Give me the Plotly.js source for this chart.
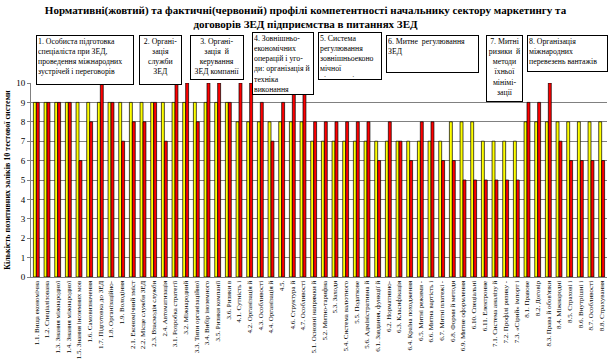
<!DOCTYPE html>
<html>
<head>
<meta charset="utf-8">
<script src="https://cdn.plot.ly/plotly-3.0.1.min.js"></script>
<style>html,body{margin:0;padding:0;background:#fff;}#chart{width:611px;height:361px;}</style>
</head>
<body>
<div id="chart"></div>
<script>
var categories = [
"1.1. Вища економічна","1.2. Спеціалізована","1.3. Знання міжнародної","1.4. Знання міжнародної",
"1.5. Знання іноземних мов","1.6. Самовизначення","1.7. Підготовка до ЗЕД","1.8. Організаційно-",
"1.9. Володіння","2.1. Економічний зміст","2.2. Місце служби ЗЕД","2.3. Взаємодія служби",
"2.4. Автоматизація","3.1. Розробка стратегії","3.2. Міжнародний","3.3. Типи організаційної",
"3.4. Вибір іноземного","3.5. Ризики компанії","3.6. Ризики в","4.1. Сутність і",
"4.2. Організація й","4.3. Особливості","4.4. Організація й","4.5.",
"4.6. Структура й","4.7. Особливості","5.1. Основні напрямки й","5.2. Митно-тарифна",
"5.3. Заходи","5.4. Система валютного","5.5. Податкове","5.6. Адміністративна й",
"6.1. Завдання, функції й","6.2. Нормативно-","6.3. Класифікація","6.4. Країна походження",
"6.5. Митні режими -","6.6. Митна вартість і","6.7. Митні платежі -","6.8. Форми й методи",
"6.9. Митне оформлення","6.10. Спеціальні","6.11. Електронне","7.1. Система аналізу й",
"7.2. Профілі ризику -","7.3. «Сірий» імпорт і","8.1. Правове","8.2. Договір",
"8.3. Права й обов'язки","8.4. Міжнародні","8.5. Страхові і","8.6. Внутрішні і",
"8.7. Особливості","8.8. Страхування"
];
var normative = [9,9,9,9,9,9,9,9,9, 9,9,9,9, 9,9,9,9,9,9, 8,8,8,8,8,8,8, 7,7,7,7,7,7,
                 7,7,7,7,7,7,7,8,8,8,7, 7,7,7, 8,8,8,8,8,8,8,8];
var actual =    [9,9,9,9,6,8,10,9,7, 8,8,9,7, 10,10,8,10,10,9, 10,10,9,7,9,10,10, 8,8,8,8,8,8,
                 6,8,7,6,8,8,6,6,5,5,5, 5,5,5, 9,9,10,7,6,6,6,6];
var seriesNames = ["Нормативний", "Фактичний"];
var titleText = "Нормативні(жовтий) та фактичні(червоний) профілі компетентності начальнику сектору маркетингу та<br>договорів ЗЕД підприємства в питаннях ЗЕД";
var yTitle = "Кількість позитивних заліків 10 тестової системи";
var sectionTexts = [
"1. Особиста підготовка<br>спеціаліста при ЗЕД,<br>проведення міжнародних<br>зустрічей і переговорів",
"2. Органі-<br>зація<br>служби<br>ЗЕД",
"3. Органі-<br>зація  й<br>керування<br>ЗЕД компанії",
"4. Зовнішньо-<br>економічних<br>операцій і уго-<br>ди: організація й<br>техніка<br>виконання",
"5. Система<br>регулювання<br>зовнішньоеконо<br>мічної<br>діяльності",
"6. Митне  регулювання<br>ЗЕД",
"7. Митні<br>ризики  й<br>методи<br>їхньої<br>мінімі-<br>зації",
"8. Організація<br>міжнародних<br>перевезень вантажів"
];

// layout geometry (pixels)
var W = 611, H = 361, L = 31, R = 4, T = 83, B = 84;
var pw = W - L - R, ph = H - T - B;
var boxes = [
  {l:36, r:134, t:35, b:85, align:'left'},
  {l:139, r:182, t:35, b:85, align:'center'},
  {l:190, r:244, t:35, b:80, align:'center'},
  {l:252, r:314, t:32, b:95, align:'left'},
  {l:318, r:382, t:32, b:80, align:'left'},
  {l:386, r:479, t:35, b:73, align:'left'},
  {l:486, r:523, t:35, b:102, align:'center'},
  {l:527, r:608, t:35, b:72, align:'left'}
];
var serif = "Liberation Serif, Times New Roman, serif";
var annotations = boxes.map(function(bx, i){
  return {
    xref:'paper', yref:'paper',
    x:(bx.l - L)/pw, y:(H - B - bx.t)/ph,
    xanchor:'left', yanchor:'top',
    width: bx.r - bx.l - 4, height: bx.b - bx.t - 4,
    text: sectionTexts[i], showarrow:false,
    align: bx.align, valign:'top',
    bgcolor:'#ffffff', bordercolor:'#000000', borderwidth:1, borderpad:1,
    font:{family:serif, size:7.8, color:'#000'}
  };
});

var traces = [
  {type:'bar', name:seriesNames[0], x:categories, y:normative,
   marker:{color:'#ffff00', line:{color:'#000000', width:0.7}}, hoverinfo:'none'},
  {type:'bar', name:seriesNames[1], x:categories, y:actual,
   marker:{color:'#ff0000', line:{color:'#000000', width:0.7}}, hoverinfo:'none'}
];
var layout = {
  width:W, height:H,
  margin:{l:L, r:R, t:T, b:B, pad:0},
  paper_bgcolor:'#ffffff', plot_bgcolor:'#ffffff',
  showlegend:false,
  barmode:'group', bargap:0.45, bargroupgap:0,
  title:{text:'<b>'+titleText+'</b>', xref:'container', x:0.5, xanchor:'center',
         yref:'container', y:1-14/H, yanchor:'top',
         font:{family:serif, size:11, color:'#000'}},
  xaxis:{type:'category', tickangle:-90, automargin:false,
         tickfont:{family:serif, size:7, color:'#000'},
         showgrid:false, showline:true, linecolor:'#808080', linewidth:1,
         ticks:'', fixedrange:true},
  yaxis:{range:[0,10], dtick:1, automargin:false,
         tickfont:{family:serif, size:9, color:'#000'},
         showgrid:true, gridcolor:'#808080', gridwidth:1,
         showline:true, linecolor:'#808080', linewidth:1,
         ticks:'outside', ticklen:3, tickcolor:'#808080', zeroline:false,
         title:{text:'<b>'+yTitle+'</b>', standoff:4,
                font:{family:serif, size:8, color:'#000'}}},
  annotations:annotations
};
Plotly.newPlot('chart', traces, layout, {displayModeBar:false, staticPlot:true});
</script>
</body>
</html>
